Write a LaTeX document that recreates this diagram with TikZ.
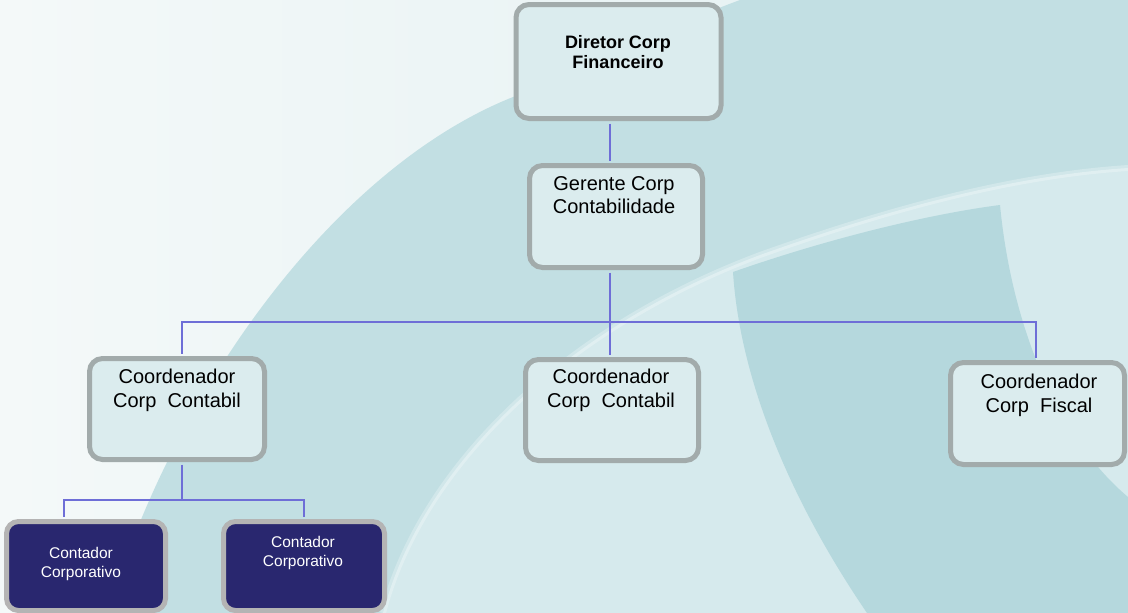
\documentclass[tikz,border=0pt]{standalone}
\usepackage{fontspec}
\setmainfont{Liberation Sans}
\definecolor{bgA}{RGB}{244,249,249}
\definecolor{bgB}{RGB}{226,239,241}
\definecolor{band}{RGB}{194,223,227}
\definecolor{inner}{RGB}{214,234,237}
\definecolor{shield}{RGB}{181,216,221}
\definecolor{boxgray}{RGB}{162,171,171}
\definecolor{boxfill}{RGB}{219,236,238}
\definecolor{navygray}{RGB}{180,180,180}
\definecolor{navyfill}{RGB}{41,39,111}
\definecolor{linecol}{RGB}{110,110,215}
\begin{document}
\begin{tikzpicture}[x=1pt,y=-1pt,
  lbox/.style={draw=boxgray, line width=5pt, fill=boxfill, rounded corners=13pt, inner sep=0pt},
  nbox/.style={draw=navygray, line width=5pt, fill=navyfill, rounded corners=12pt, inner sep=0pt},
  conn/.style={draw=linecol, line width=2pt},
  tbig/.style={font=\fontsize{20}{24}\selectfont, anchor=base, inner sep=0pt},
  tbold/.style={font=\fontsize{18}{22}\selectfont\bfseries, anchor=base, inner sep=0pt},
  tsmall/.style={font=\fontsize{15.5}{19}\selectfont, anchor=base, inner sep=0pt, text=white}]
\useasboundingbox (0,0) rectangle (1128,613);
% background
\shade[left color=bgA, right color=bgB] (0,0) rectangle (1128,613);
\fill[band] (108,613) .. controls (170,400) and (330,170) .. (513,97)
  .. controls (600,60) and (680,22) .. (740,0) -- (1128,0) -- (1128,613) -- cycle;
\fill[inner] (383,613) .. controls (420,470) and (560,330) .. (760,255)
  .. controls (900,205) and (1020,175) .. (1128,168) -- (1128,613) -- cycle;
\draw[white, opacity=0.25, line width=6pt] (383,613) .. controls (420,470) and (560,330) .. (760,255)
  .. controls (900,205) and (1020,175) .. (1128,168);
\fill[shield] (733,272) .. controls (830,238) and (930,214) .. (1000,205)
  .. controls (1012,330) and (1060,440) .. (1128,497) -- (1128,613) -- (867,613)
  .. controls (790,500) and (740,380) .. cycle;
% coordinates
\coordinate (bus) at (610,322);
\coordinate (sub) at (182,500);
% boxes
\node[lbox, minimum width=205pt, minimum height=114pt] (dir) at (618.5,61.5) {};
\node[lbox, minimum width=173pt, minimum height=102pt] (ger) at (616,216.5) {};
\node[lbox, minimum width=175pt, minimum height=101pt] (c1) at (177,409) {};
\node[lbox, minimum width=173pt, minimum height=101pt] (c2) at (612,410) {};
\node[lbox, minimum width=174pt, minimum height=102pt] (c3) at (1037.5,413.5) {};
\node[nbox, minimum width=159pt, minimum height=89pt] (k1) at (86,566) {};
\node[nbox, minimum width=161pt, minimum height=89pt] (k2) at (304,566) {};
% connectors
\draw[conn] ([xshift=-8.5pt,yshift=-2.5pt]dir.south) -- ([xshift=-8.5pt,yshift=2.5pt]dir.south |- ger.north);
\draw[conn] ([xshift=-6pt,yshift=-2.5pt]ger.south) -- ([xshift=-6pt,yshift=2.5pt]ger.south |- c2.north);
\draw[conn] ([xshift=5pt,yshift=2.5pt]c1.north) |- (bus) -| ([xshift=-2pt,yshift=2.5pt]c3.north);
\draw[conn] ([xshift=5pt,yshift=-2.5pt]c1.south) -- (sub);
\draw[conn] ([xshift=-22pt,yshift=2.5pt]k1.north) |- (sub) -| ([yshift=2.5pt]k2.north);
% texts
\node[tbold] (d1) at (618,48) {Diretor Corp};
\node[tbold] (d2) at (618,68) {Financeiro};
\node[tbig] (g1) at (614,190) {Gerente Corp};
\node[tbig] (g2) at (614,213) {Contabilidade};
\node[tbig] (a1) at (177,383) {Coordenador};
\node[tbig] (a2) at (177,407) {Corp\ \ Contabil};
\node[tbig] (b1) at (611,383) {Coordenador};
\node[tbig] (b2) at (611,407) {Corp\ \ Contabil};
\node[tbig] (e1) at (1039,388) {Coordenador};
\node[tbig] (e2) at (1039,412) {Corp\ \ Fiscal};
\node[tsmall] (k1a) at (81,558) {Contador};
\node[tsmall] (k1b) at (81,577) {Corporativo};
\node[tsmall] (k2a) at (303,547) {Contador};
\node[tsmall] (k2b) at (303,566) {Corporativo};
\end{tikzpicture}
\end{document}
